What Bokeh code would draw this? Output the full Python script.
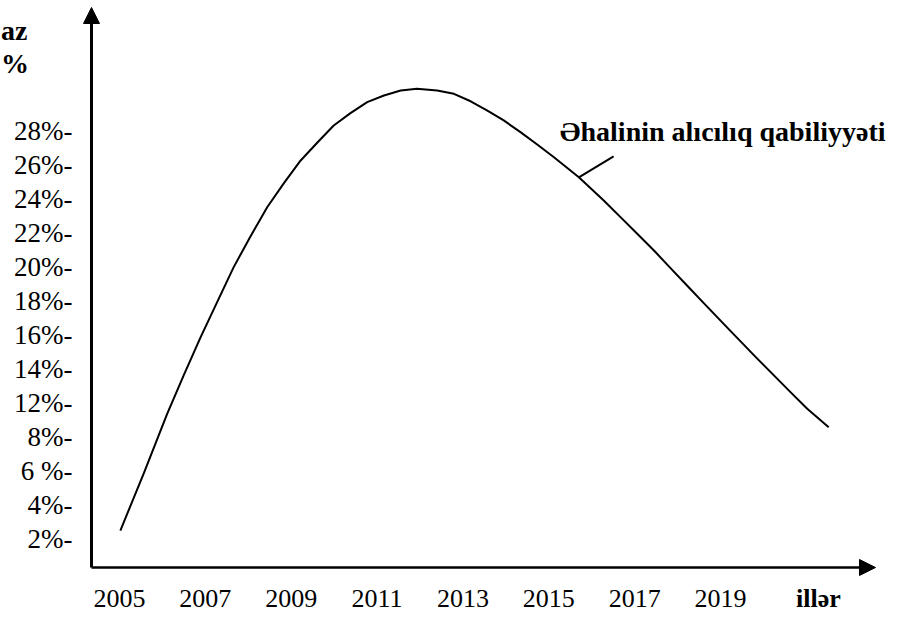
from bokeh.plotting import figure
from bokeh.models import Arrow, NormalHead, Label, Range1d
from bokeh.core.properties import value
from bokeh.embed import file_html
from bokeh.resources import INLINE

# ---- data ----
years = [2005.02, 2005.57, 2006.11, 2006.50, 2006.89, 2007.28, 2007.66, 2008.05,
         2008.44, 2008.83, 2009.22, 2009.61, 2009.99, 2010.38, 2010.77, 2011.16,
         2011.55, 2011.93, 2012.40, 2012.79, 2013.18, 2013.56, 2013.95, 2014.34,
         2014.73, 2015.12, 2015.70, 2016.28, 2016.67, 2017.06, 2017.45, 2017.83,
         2018.22, 2018.61, 2019.23, 2019.85, 2020.63, 2021.02, 2021.52]
values = [2.47, 5.87, 9.35, 11.65, 13.87, 15.97, 18.00, 19.81,
          21.53, 22.95, 24.29, 25.35, 26.35, 27.08, 27.73, 28.12,
          28.42, 28.52, 28.42, 28.22, 27.78, 27.24, 26.65, 25.96,
          25.23, 24.48, 23.30, 21.93, 20.95, 19.97, 18.98, 17.96,
          16.92, 15.88, 14.24, 12.62, 10.63, 9.65, 8.56]

x_ticks = [2005, 2007, 2009, 2011, 2013, 2015, 2017, 2019]
x_tick_labels = ["2005", "2007", "2009", "2011", "2013", "2015", "2017", "2019"]
y_ticks = [2, 4, 6, 8, 10, 12, 14, 16, 18, 20, 22, 24, 26]
y_tick_labels = ["2%", "4%", "6 %", "8%", "12%", "14%", "16%", "18%",
                 "20%", "22%", "24%", "26%", "28%"]

series_name = "Əhalinin alıcılıq qabiliyyəti"
x_axis_title = "illər"
y_axis_title_lines = ["az", "%"]

# leader line from the curve to its name
leader_x = [2015.70, 2016.51]
leader_y = [23.29, 24.53]

FONT = "Liberation Serif"

# layout helpers (axis geometry in data units)
X_AXIS_POS = 2004.348      # x where the vertical axis stands
Y_AXIS_POS = 0.29          # y where the horizontal axis lies
X_ARROW_END = 2022.61
Y_ARROW_END = 33.31
YLAB_X = 2003.905          # right edge of y tick labels
XLAB_Y = -1.51             # vertical centre of x tick labels

p = figure(width=898, height=618, output_backend="svg", toolbar_location=None,
           x_range=Range1d(2002.228, 2023.146), y_range=Range1d(-2.717, 33.722),
           min_border=0, x_axis_location=None, y_axis_location=None)
p.outline_line_color = None
p.grid.visible = False
p.background_fill_color = "white"
p.border_fill_color = "white"

# axes with arrow heads
p.add_layout(Arrow(end=NormalHead(size=16, fill_color="black", line_color="black"),
                   x_start=X_AXIS_POS, y_start=Y_AXIS_POS, x_end=X_AXIS_POS,
                   y_end=Y_ARROW_END, line_width=3, line_color="black"))
p.add_layout(Arrow(end=NormalHead(size=16, fill_color="black", line_color="black"),
                   x_start=X_AXIS_POS, y_start=Y_AXIS_POS, x_end=X_ARROW_END,
                   y_end=Y_AXIS_POS, line_width=2.5, line_color="black"))

# tick labels
p.text(x=x_ticks, y=[XLAB_Y] * len(x_ticks), text=x_tick_labels,
       text_font=value(FONT), text_font_size="26px", text_color="black",
       text_align="center", text_baseline="middle")
p.text(x=[YLAB_X] * len(y_ticks), y=y_ticks, text=[l + "-" for l in y_tick_labels],
       text_font=value(FONT), text_font_size="27px", text_color="black",
       text_align="right", text_baseline="middle")

# the curve
p.line(years, values, line_color="black", line_width=2, line_join="round")
p.line(leader_x, leader_y, line_color="black", line_width=2)

p.add_layout(Label(x=2019.05, y=25.97, text=series_name, text_font=FONT,
                   text_font_style="bold", text_font_size="28px",
                   text_align="center", text_baseline="middle",
                   text_color="black"))
p.add_layout(Label(x=2021.28, y=XLAB_Y, text=x_axis_title,
                   text_font=FONT, text_font_style="bold", text_font_size="26px",
                   text_align="center", text_baseline="middle",
                   text_color="black"))
p.add_layout(Label(x=2002.24, y=31.95, text=y_axis_title_lines[0], text_font=FONT,
                   text_font_style="bold", text_font_size="28px",
                   text_align="left", text_baseline="middle", text_color="black"))
p.add_layout(Label(x=2002.24, y=30.01, text=y_axis_title_lines[1], text_font=FONT,
                   text_font_style="bold", text_font_size="28px",
                   text_align="left", text_baseline="middle", text_color="black"))

open("out.html", "w").write(file_html(p, INLINE))
